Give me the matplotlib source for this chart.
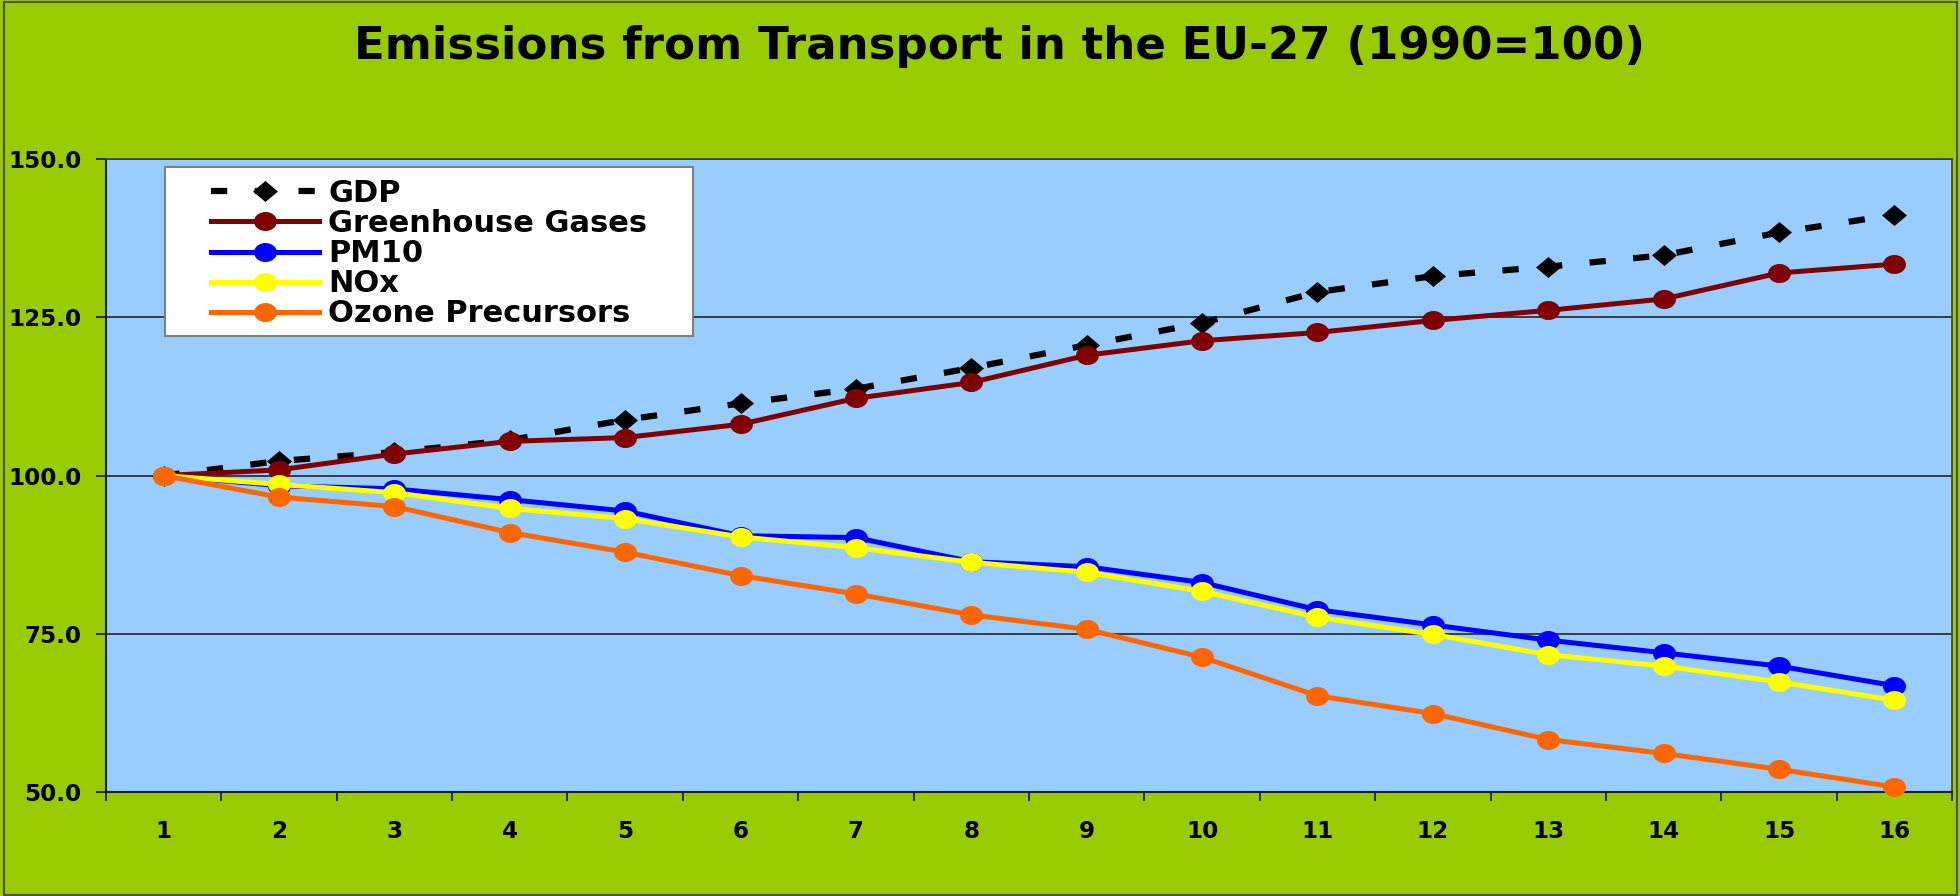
import matplotlib
matplotlib.use("Agg")
import numpy as np
import matplotlib.pyplot as plt
from matplotlib.path import Path
from matplotlib.patches import Rectangle
from matplotlib.ticker import FixedLocator, FormatStrFormatter

plt.rcParams['font.family'] = ['DejaVu Sans']
plt.rcParams['font.weight'] = 'bold'

title = "Emissions from Transport in the EU-27 (1990=100)"
categories = list(range(1, 17))
gdp = [100, 102.3, 103.7, 105.6, 108.8, 111.4, 113.7, 117.0, 120.6, 124.1, 129.0, 131.5, 133.0, 134.8, 138.4, 141.2]
ghg = [100, 100.9, 103.4, 105.4, 106.0, 108.1, 112.2, 114.7, 119.0, 121.3, 122.6, 124.5, 126.1, 127.9, 132.0, 133.4]
pm10 = [100, 98.4, 97.9, 96.2, 94.4, 90.5, 90.2, 86.4, 85.6, 83.1, 78.8, 76.4, 74.0, 72.0, 69.9, 66.8]
nox = [100, 98.6, 97.3, 94.8, 93.2, 90.3, 88.6, 86.3, 84.7, 81.7, 77.6, 74.9, 71.7, 69.9, 67.4, 64.5]
ozone = [100, 96.6, 95.1, 91.0, 87.9, 84.2, 81.3, 78.0, 75.7, 71.3, 65.2, 62.4, 58.3, 56.1, 53.6, 50.8]
series_names = ["GDP", "Greenhouse Gases", "PM10", "NOx", "Ozone Precursors"]
y_ticks = [50, 75, 100, 125, 150]

# horizontally stretched marker shapes (the reference is slightly widened)
circ = Path.unit_circle()
ellipse = Path(circ.vertices * np.array([1.0, 0.83]), circ.codes)
diamond = Path([(1, 0), (0, 0.84), (-1, 0), (0, -0.84), (1, 0)],
               [Path.MOVETO, Path.LINETO, Path.LINETO, Path.LINETO, Path.CLOSEPOLY])

fig = plt.figure(figsize=(19.6, 8.96), dpi=100)
fig.patch.set_facecolor('#99CC00')
fig.patches.append(Rectangle((0.0018, 0.001), 0.9966, 0.997, transform=fig.transFigure,
                             fill=False, edgecolor='#505050', linewidth=1.5))

ax = fig.add_axes([0.054, 0.116, 0.942, 0.7065])
ax.set_facecolor('#99CCFF')

lw = 3.6
ms = 16.5
ax.plot(categories, gdp, color='black', linewidth=4.5, dashes=(2.6, 4.4),
        dash_capstyle='butt', marker=diamond, markersize=18, markeredgewidth=0,
        label=series_names[0], clip_on=False, zorder=3)
ax.plot(categories, ghg, color='#800000', linewidth=lw, marker=ellipse, markersize=ms,
        markeredgewidth=0, label=series_names[1], clip_on=False, zorder=4)
ax.plot(categories, pm10, color='#0000FF', linewidth=lw, marker=ellipse, markersize=ms,
        markeredgewidth=0, label=series_names[2], clip_on=False, zorder=5)
ax.plot(categories, nox, color='#FFFF00', linewidth=lw, marker=ellipse, markersize=ms,
        markeredgewidth=0, label=series_names[3], clip_on=False, zorder=6)
ax.plot(categories, ozone, color='#FF6600', linewidth=lw, marker=ellipse, markersize=ms,
        markeredgewidth=0, label=series_names[4], clip_on=False, zorder=7)

ax.set_xlim(0.5, 16.5)
ax.set_ylim(50, 150)
ax.yaxis.set_major_locator(FixedLocator(y_ticks))
ax.yaxis.set_major_formatter(FormatStrFormatter('%.1f'))
ax.set_xticks(categories)
ax.set_xticklabels([str(c) for c in categories])
ax.xaxis.set_minor_locator(FixedLocator([c - 0.5 for c in categories] + [categories[-1] + 0.5]))
ax.tick_params(axis='x', which='major', length=0, pad=20, labelsize=16.6)
ax.tick_params(axis='x', which='minor', length=6.5, width=1.3, direction='out', color='#202020')
ax.tick_params(axis='y', which='major', length=7.2, width=1.3, direction='out', pad=10.5,
               labelsize=16.6, color='#202020')
for lab in ax.get_xticklabels() + ax.get_yticklabels():
    lab.set_fontweight('bold')

ax.grid(axis='y', color='#303030', linewidth=1.3)
ax.set_axisbelow(True)
for side in ['left', 'bottom']:
    ax.spines[side].set_color('#202020')
    ax.spines[side].set_linewidth(1.5)
for side in ['top', 'right']:
    ax.spines[side].set_color('#404040')
    ax.spines[side].set_linewidth(1.2)

# legend frame and legend
ax.add_patch(Rectangle((0.032, 0.7204), 0.286, 0.267, transform=ax.transAxes,
                       facecolor='white', edgecolor='#808080', linewidth=1.5, zorder=9))
leg = ax.legend(loc='upper left', bbox_to_anchor=(0.0569, 0.9684), frameon=False,
                borderpad=0, borderaxespad=0, handlelength=3.54,
                handletextpad=0.3, labelspacing=0.036, prop={'weight': 'bold', 'size': 22})
leg.set_zorder(10)

fig.text(0.51, 0.934, title, ha='center', va='baseline', fontsize=32.5, fontweight='bold')

fig.savefig('out.png', dpi=100, facecolor=fig.get_facecolor())
